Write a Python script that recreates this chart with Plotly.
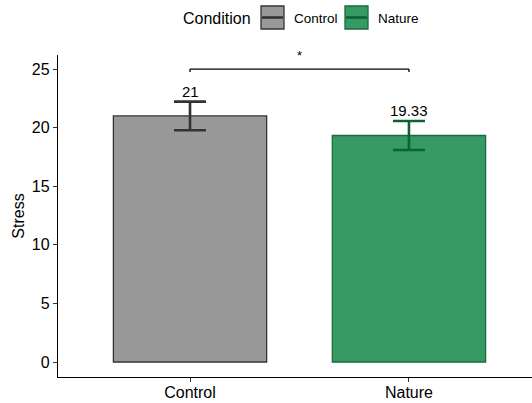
import plotly.graph_objects as go

# ---- data ----
conditions = ["Control", "Nature"]
stress_mean = [21.0, 19.33]
stress_se = [1.22, 1.24]
mean_labels = ["21", "19.33"]
y_ticks = [0, 5, 10, 15, 20, 25]
sig_label = "*"
sig_y = 25.0

fill_colors = ["#999999", "#379963"]
edge_colors = ["#333333", "#1a6a3c"]
err_colors = ["#333333", "#0a6332"]

FONT = "Liberation Sans, Arial, Helvetica, sans-serif"
W, H = 532, 403
ML, MR, MT, MB = 58, 0, 55, 26
PW, PH = W - ML - MR, H - MT - MB

def px(x):
    return (x - ML) / PW

def py(y):
    return (H - MB - y) / PH

fig = go.Figure()
for i, c in enumerate(conditions):
    fig.add_trace(go.Bar(
        x=[c], y=[stress_mean[i]], width=0.7,
        marker=dict(color=fill_colors[i], line=dict(color=edge_colors[i], width=1.3)),
        error_y=dict(type="data", array=[stress_se[i]], visible=True,
                     color=err_colors[i], thickness=2.6, width=16),
        showlegend=False, hoverinfo="skip",
    ))

annotations = []
for i, c in enumerate(conditions):
    annotations.append(dict(
        x=c, y=stress_mean[i] + stress_se[i], text=mean_labels[i],
        showarrow=False, yanchor="bottom", yshift=0,
        font=dict(family=FONT, size=15, color="#000000"),
    ))

# significance bracket
shapes = [
    dict(type="line", xref="x", yref="y", x0=0, x1=1, y0=sig_y, y1=sig_y,
         line=dict(color="black", width=1.3)),
    dict(type="line", xref="x", yref="y", x0=0, x1=0, y0=sig_y, y1=sig_y - 0.25,
         line=dict(color="black", width=1.3)),
    dict(type="line", xref="x", yref="y", x0=1, x1=1, y0=sig_y, y1=sig_y - 0.25,
         line=dict(color="black", width=1.3)),
]
annotations.append(dict(
    x=0.5, y=sig_y, xref="x", yref="y", text=sig_label, showarrow=False,
    yanchor="bottom", yshift=4, font=dict(family=FONT, size=13, color="black"),
))

# manual legend
annotations.append(dict(
    x=px(181), y=py(18), xref="paper", yref="paper", text="Condition",
    showarrow=False, xanchor="left", yanchor="middle",
    font=dict(family=FONT, size=16, color="black"),
))
sw_x = [261, 345]
txt_x = [292, 376]
for i, c in enumerate(conditions):
    x0, x1 = sw_x[i], sw_x[i] + 23
    shapes.append(dict(type="rect", xref="paper", yref="paper",
                       x0=px(x0), x1=px(x1), y0=py(29), y1=py(6),
                       fillcolor=fill_colors[i], line=dict(color=edge_colors[i], width=1.3)))
    shapes.append(dict(type="line", xref="paper", yref="paper",
                       x0=px(x0 + 1), x1=px(x1 - 1), y0=py(17.5), y1=py(17.5),
                       line=dict(color=err_colors[i], width=2.6)))
    annotations.append(dict(
        x=px(txt_x[i]), y=py(18), xref="paper", yref="paper", text=c,
        showarrow=False, xanchor="left", yanchor="middle",
        font=dict(family=FONT, size=13.5, color="black"),
    ))

fig.update_layout(
    width=W, height=H,
    margin=dict(l=ML, r=MR, t=MT, b=MB),
    plot_bgcolor="white", paper_bgcolor="white",
    font=dict(family=FONT, size=16, color="black"),
    bargap=0.3,
    shapes=shapes, annotations=annotations,
    xaxis=dict(
        type="category", range=[-0.603, 1.562],
        showline=True, linecolor="black", linewidth=1.3,
        ticks="outside", ticklen=4, tickwidth=1.2, tickcolor="#333333",
        showgrid=False, zeroline=False, ticklabelstandoff=-3,
        tickfont=dict(family=FONT, size=16, color="black"),
    ),
    yaxis=dict(
        range=[-1.28, 26.2], tickvals=y_ticks,
        showline=True, linecolor="black", linewidth=1.3,
        ticks="outside", ticklen=4, tickwidth=1.2, tickcolor="#333333",
        showgrid=False, zeroline=False,
        tickfont=dict(family=FONT, size=16, color="black"),
        title=dict(text="Stress", font=dict(family=FONT, size=16, color="black"), standoff=3),
    ),
)

fig.write_html("out.html")
